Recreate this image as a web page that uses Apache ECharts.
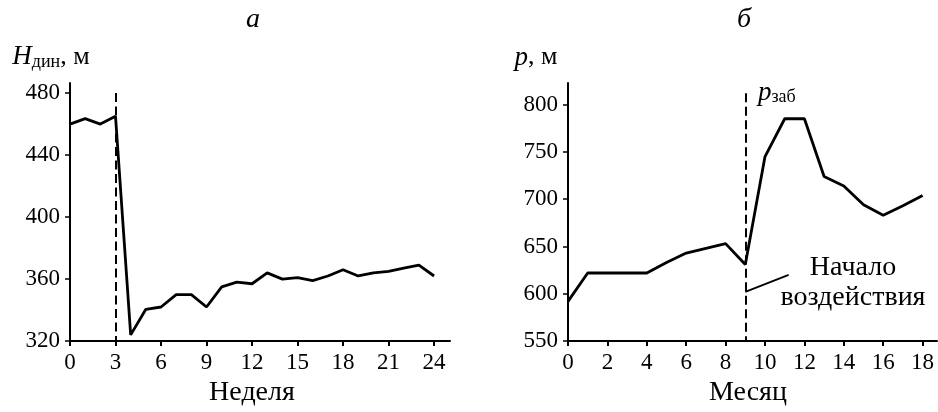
<!DOCTYPE html>
<html>
<head>
<meta charset="utf-8">
<script src="https://cdn.jsdelivr.net/npm/echarts@6/dist/echarts.min.js"></script>
<style>
  html, body { margin: 0; padding: 0; background: #fff; }
  #main { width: 938px; height: 412px; }
</style>
</head>
<body>
<div id="main"></div>
<script>
// panel a: dynamic level by week
const weeks = [0, 1, 2, 3, 4, 5, 6, 7, 8, 9, 10, 11, 12, 13, 14, 15, 16, 17, 18, 19, 20, 21, 22, 23, 24];
const hDyn = [460, 463.5, 460, 465, 324, 340.5, 342, 350, 350, 342, 355, 358, 357, 364, 360, 361, 359, 362, 366, 362, 364, 365, 367, 369, 362];
const weekTicks = [0, 3, 6, 9, 12, 15, 18, 21, 24];
const hTicks = [320, 360, 400, 440, 480];

// panel b: bottomhole pressure by month
const months = [0, 1, 2, 3, 4, 5, 6, 7, 8, 9, 10, 11, 12, 13, 14, 15, 16, 17, 18];
const pressure = [592, 622, 622, 622, 622, 633, 643, 648, 653, 631, 745, 785, 785, 724, 714, 694, 683, 693, 704];
const monthTicks = [0, 2, 4, 6, 8, 10, 12, 14, 16, 18];
const pTicks = [550, 600, 650, 700, 750, 800];

const startWeek = 3;
const startMonth = 9;

const font = "Liberation Serif";
const black = "#000";
const dash = [9, 4.5];

function pairs(xs, ys) {
  return xs.map((x, i) => [x, ys[i]]);
}

function xAxisFor(gridIndex, max, ticks, name, pad) {
  return {
    type: "value",
    gridIndex: gridIndex,
    min: 0,
    max: max,
    name: name,
    nameLocation: "middle",
    nameGap: 32,
    nameTextStyle: { fontFamily: font, fontSize: 28, color: black, padding: [0, pad, 0, 0] },
    axisLine: { show: true, onZero: false, lineStyle: { color: black, width: 2 } },
    axisTick: { show: true, length: 5, customValues: ticks, lineStyle: { color: black, width: 2 } },
    axisLabel: { customValues: ticks, margin: 10, fontFamily: font, fontSize: 23, color: black },
    splitLine: { show: false }
  };
}

function yAxisFor(gridIndex, min, max, ticks, name, rich, pad) {
  return {
    type: "value",
    gridIndex: gridIndex,
    min: min,
    max: max,
    name: name,
    nameLocation: "end",
    nameGap: 12,
    nameTextStyle: { fontFamily: font, fontSize: 26, color: black, padding: [0, pad, 0, 0], rich: rich },
    axisLine: { show: true, lineStyle: { color: black, width: 2 } },
    axisTick: { show: true, length: 5, customValues: ticks, lineStyle: { color: black, width: 1.5 } },
    axisLabel: { customValues: ticks, margin: 10, fontFamily: font, fontSize: 23, color: black },
    splitLine: { show: false }
  };
}

const nameRich = {
  i: { fontFamily: font, fontStyle: "italic", fontSize: 27, color: black },
  s: { fontFamily: font, fontSize: 18, color: black, padding: [10, 0, 0, 0] },
  n: { fontFamily: font, fontSize: 26, color: black }
};

const chart = echarts.init(document.getElementById("main"));
chart.setOption({
  animation: false,
  backgroundColor: "#fff",
  grid: [
    { left: 70, right: 488, top: 83, bottom: 66 },
    { left: 568, right: 1, top: 83, bottom: 66 }
  ],
  xAxis: [
    xAxisFor(0, 25.05, weekTicks, "Неделя", 16),
    xAxisFor(1, 18.73, monthTicks, "Месяц", 9)
  ],
  yAxis: [
    yAxisFor(0, 320, 486.5, hTicks, "{i|H}{s|дин}{n|, м}", nameRich, 38),
    yAxisFor(1, 550, 822.8, pTicks, "{i|p}{n|, м}", nameRich, 64)
  ],
  series: [
    {
      type: "line",
      xAxisIndex: 0,
      yAxisIndex: 0,
      data: pairs(weeks, hDyn),
      symbol: "none",
      lineStyle: { color: black, width: 2.8 },
      markLine: {
        silent: true,
        symbol: "none",
        label: { show: false },
        lineStyle: { color: black, width: 2, type: dash },
        data: [[{ coord: [startWeek, 480] }, { coord: [startWeek, 320] }]]
      }
    },
    {
      type: "line",
      xAxisIndex: 1,
      yAxisIndex: 1,
      data: pairs(months, pressure),
      symbol: "none",
      lineStyle: { color: black, width: 2.8 },
      markLine: {
        silent: true,
        symbol: "none",
        label: { show: false },
        data: [
          [{ coord: [startMonth, 812], lineStyle: { color: black, width: 2, type: dash } },
           { coord: [startMonth, 550] }],
          [{ coord: [startMonth, 602], lineStyle: { color: black, width: 1.8, type: "solid" } },
           { coord: [11.2, 620] }]
        ]
      }
    }
  ],
  graphic: [
    { type: "text", left: 246, top: 6, style: { text: "а", fontFamily: font, fontStyle: "italic", fontSize: 28, fill: black } },
    { type: "text", left: 737, top: 6, style: { text: "б", fontFamily: font, fontStyle: "italic", fontSize: 28, fill: black } },
    {
      type: "text", left: 758, top: 79,
      style: {
        text: "{i|p}{s|заб}",
        rich: {
          i: { fontFamily: font, fontStyle: "italic", fontSize: 27, fill: black },
          s: { fontFamily: font, fontSize: 18, fill: black, padding: [10, 0, 0, 0] }
        }
      }
    },
    {
      type: "text", x: 853, y: 253,
      style: {
        text: "Начало\nвоздействия",
        fontFamily: font, fontSize: 28, lineHeight: 30,
        fill: black, align: "center", verticalAlign: "top"
      }
    }
  ]
});
</script>
</body>
</html>
